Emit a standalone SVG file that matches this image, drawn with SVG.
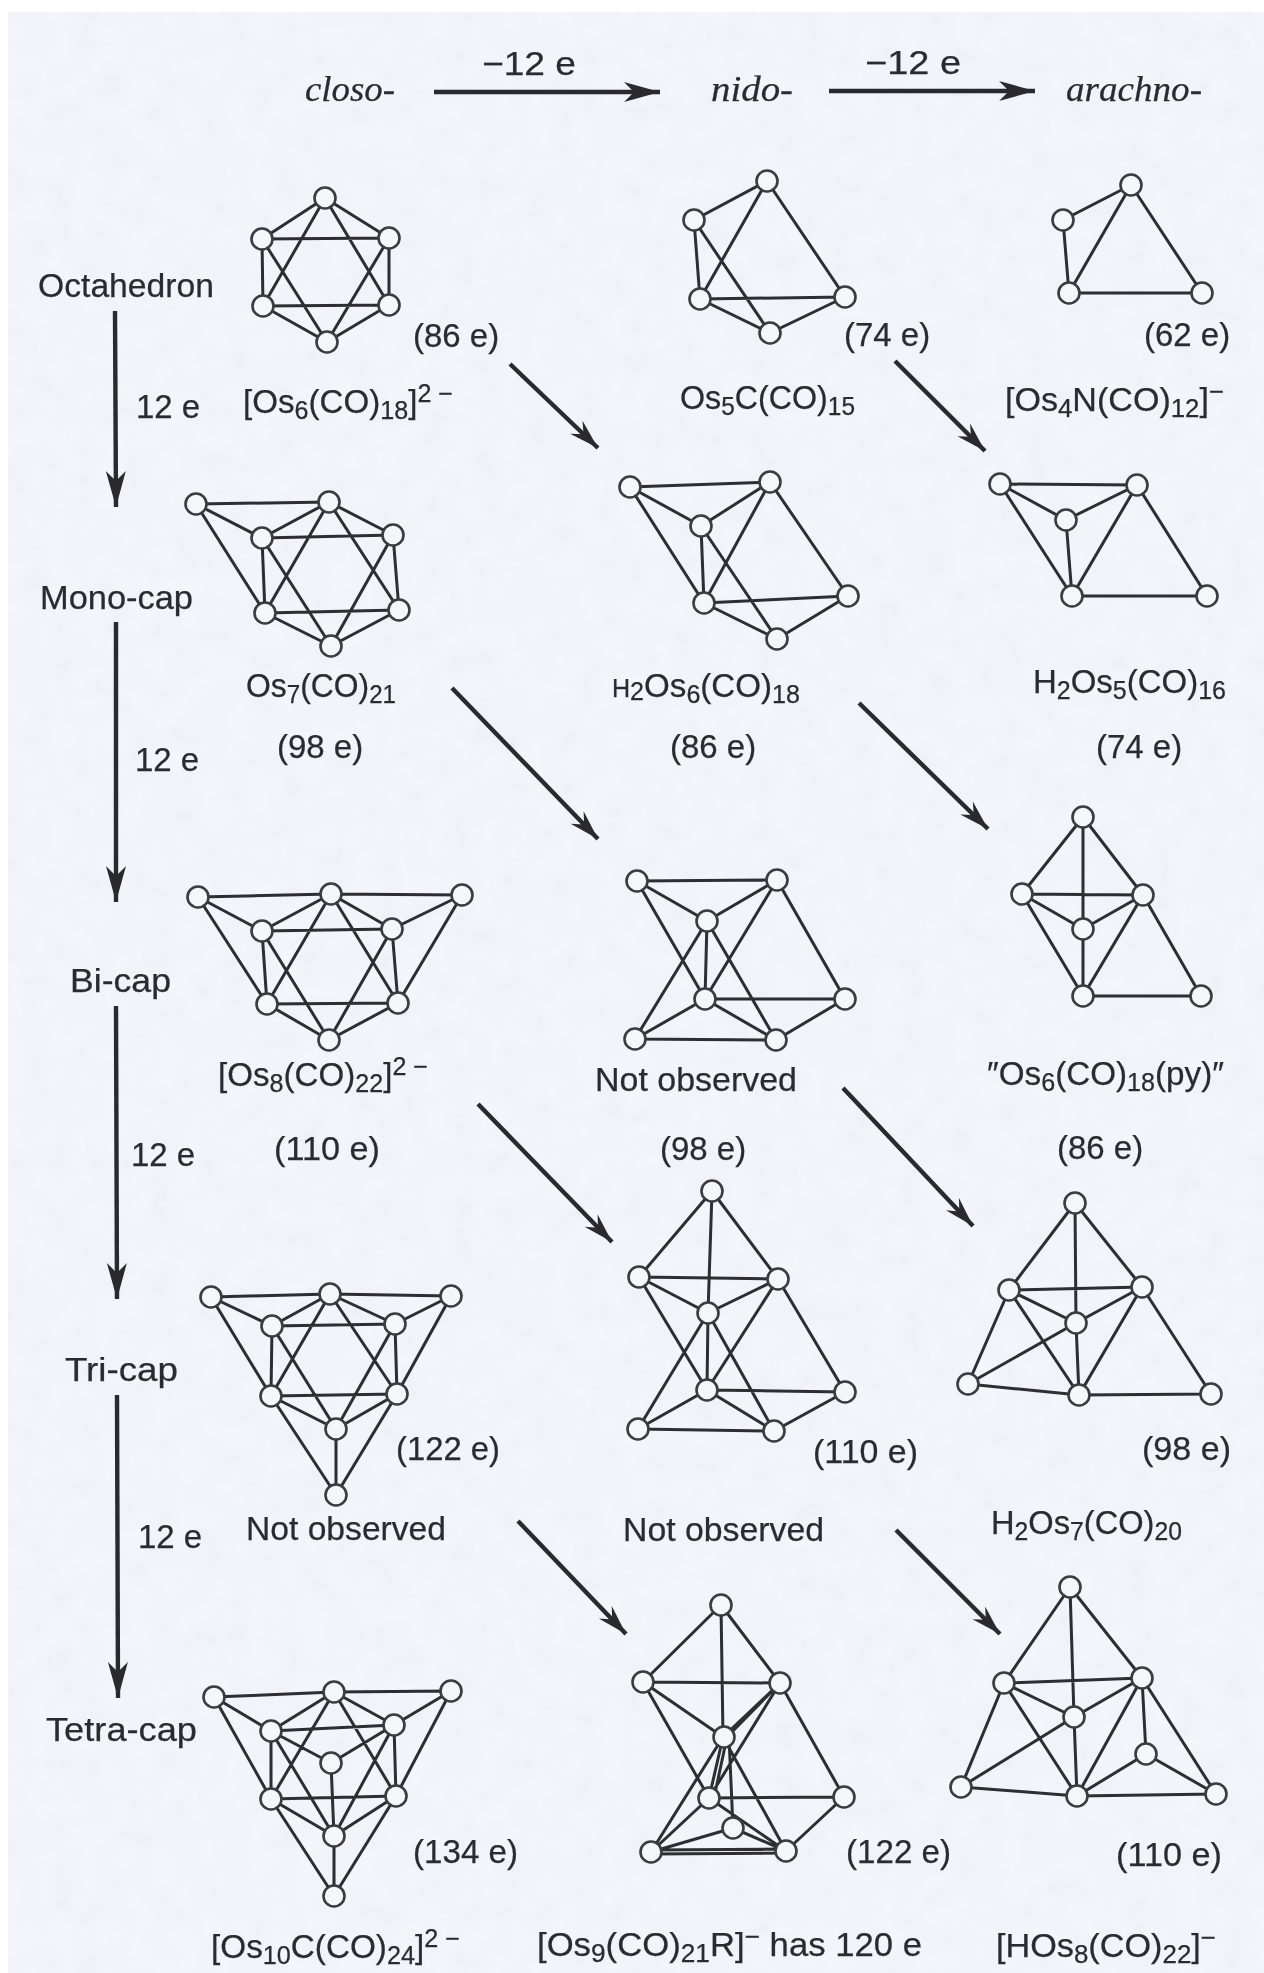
<svg xmlns="http://www.w3.org/2000/svg" width="1264" height="1973" viewBox="0 0 1264 1973">
<style>
.e{fill:none;stroke:#2e2e33;stroke-width:3;stroke-linecap:round}
.a{fill:#f4f6fa;stroke:#3a3a3f;stroke-width:2.6}
.ar{fill:none;stroke:#2a2a2f;stroke-width:4.4}
text{font-family:"Liberation Sans",Arial,sans-serif;font-size:33px;fill:#2c2c30;stroke:#2c2c30;stroke-width:.25}
.i{font-family:"Liberation Serif","Times New Roman",serif;font-style:italic;font-size:36px}
.s{font-size:25px}
</style>
<defs>
<marker id="hv" markerUnits="userSpaceOnUse" viewBox="-40 -12 42 24" refX="0" refY="0" markerWidth="42" markerHeight="24" orient="auto"><path d="M0 0L-36 -10L-26 0L-36 10Z" fill="#2a2a2f"/></marker>
<marker id="hd" markerUnits="userSpaceOnUse" viewBox="-40 -12 42 24" refX="0" refY="0" markerWidth="42" markerHeight="24" orient="auto"><path d="M0 0L-30 -9L-20 0L-30 9Z" fill="#2a2a2f"/></marker>
<filter id="mottle" x="0" y="0" width="100%" height="100%"><feTurbulence type="fractalNoise" baseFrequency="0.04" numOctaves="3" seed="4"/><feColorMatrix values="0 0 0 0 0.7  0 0 0 0 0.72  0 0 0 0 0.78  0.32 0 0 0 -0.11"/></filter>
<filter id="soft" x="0" y="0" width="100%" height="100%"><feGaussianBlur stdDeviation="0.5"/></filter>
</defs>
<rect width="1264" height="1973" fill="#ffffff"/>
<g id="page"><rect x="8" y="12" width="1256" height="1961" fill="#f3f5fa"/><rect x="8" y="12" width="1256" height="1961" filter="url(#mottle)"/></g>
<g filter="url(#soft)">
<g id="connectors">
<g id="arrows">
<path class="ar" marker-end="url(#hv)" d="M115 311L116 507"/>
<path class="ar" marker-end="url(#hv)" d="M116 622L116 902"/>
<path class="ar" marker-end="url(#hv)" d="M116 1006L117 1299"/>
<path class="ar" marker-end="url(#hv)" d="M117 1395L118 1698"/>
<path class="ar" marker-end="url(#hv)" d="M434 92L660 92"/>
<path class="ar" marker-end="url(#hv)" d="M829 91L1035 91"/>
<path class="ar" marker-end="url(#hd)" d="M510 364L598 448"/>
<path class="ar" marker-end="url(#hd)" d="M895 361L985 451"/>
<path class="ar" marker-end="url(#hd)" d="M452 688L598 839"/>
<path class="ar" marker-end="url(#hd)" d="M859 703L988 829"/>
<path class="ar" marker-end="url(#hd)" d="M478 1104L612 1242"/>
<path class="ar" marker-end="url(#hd)" d="M843 1088L973 1226"/>
<path class="ar" marker-end="url(#hd)" d="M518 1521L626 1634"/>
<path class="ar" marker-end="url(#hd)" d="M896 1530L1000 1634"/>
</g>
<g id="bonds">
<path class="e" d="M325 198L262 239M325 198L389 238M262 239L389 238M262 239L263 306M389 238L389 305M263 306L389 305M263 306L327 342M389 305L327 342M325 198L263 306M325 198L389 305M327 342L262 239M327 342L389 238"/>
<path class="e" d="M329 502L262 538M329 502L393 535M262 538L393 535M262 538L265 613M393 535L399 610M265 613L399 610M265 613L331 646M399 610L331 646M329 502L265 613M329 502L399 610M331 646L262 538M331 646L393 535M196 504L329 502M196 504L262 538M196 504L265 613"/>
<path class="e" d="M331 894L262 931M331 894L392 929M262 931L392 929M262 931L267 1004M392 929L398 1003M267 1004L398 1003M267 1004L329 1040M398 1003L329 1040M331 894L267 1004M331 894L398 1003M329 1040L262 931M329 1040L392 929M198 897L331 894M331 894L462 895M198 897L262 931M198 897L267 1004M462 895L392 929M462 895L398 1003"/>
<path class="e" d="M330 1294L272 1326M330 1294L395 1324M272 1326L395 1324M272 1326L271 1396M395 1324L397 1394M271 1396L397 1394M271 1396L336 1429M397 1394L336 1429M330 1294L271 1396M330 1294L397 1394M336 1429L272 1326M336 1429L395 1324M211 1297L330 1294M330 1294L451 1296M211 1297L272 1326M211 1297L271 1396M451 1296L395 1324M451 1296L397 1394M336 1495L271 1396M336 1495L397 1394M336 1495L336 1429"/>
<path class="e" d="M334 1692L271 1731M334 1692L394 1725M271 1731L394 1725M271 1731L271 1799M394 1725L396 1796M271 1799L396 1796M271 1799L334 1836M396 1796L334 1836M334 1692L271 1799M334 1692L396 1796M334 1836L271 1731M334 1836L394 1725M214 1697L334 1692M334 1692L451 1691M214 1697L271 1731M214 1697L271 1799M451 1691L394 1725M451 1691L396 1796M334 1896L271 1799M334 1896L396 1796M334 1896L334 1836M331 1763L271 1731M331 1763L394 1725M331 1763L334 1836"/>
<path class="e" d="M767 181L694 220M767 181L700 299M767 181L845 297M694 220L700 299M694 220L770 333M700 299L845 297M700 299L770 333M845 297L770 333"/>
<path class="e" d="M630 487L770 482M630 487L701 526M630 487L704 603M770 482L701 526M770 482L704 603M770 482L848 596M701 526L704 603M701 526L777 639M704 603L848 596M704 603L777 639M848 596L777 639"/>
<path class="e" d="M637 881L777 880M637 881L707 921M637 881L705 999M777 880L707 921M777 880L705 999M777 880L845 999M707 921L705 999M707 921L776 1040M707 921L635 1039M635 1039L705 999M635 1039L776 1040M705 999L845 999M705 999L776 1040M845 999L776 1040"/>
<path class="e" d="M712 1191L639 1277M712 1191L778 1279M712 1191L708 1313M639 1277L778 1279M639 1277L708 1313M778 1279L708 1313M639 1277L707 1390M778 1279L707 1390M778 1279L845 1392M708 1313L707 1390M708 1313L774 1431M708 1313L638 1429M638 1429L707 1390M638 1429L774 1431M707 1390L845 1392M707 1390L774 1431M845 1392L774 1431"/>
<path class="e" d="M721 1605L643 1682M721 1605L780 1683M721 1605L723 1737M643 1682L780 1683M643 1682L723 1737M780 1683L723 1737M780 1683L727 1737M643 1682L709 1798M780 1683L709 1798M780 1683L844 1797M723 1737L709 1798M727 1737L714 1798M729 1737L733 1828M723 1737L786 1851M723 1737L651 1852M709 1798L844 1797M709 1798L651 1852M709 1798L786 1851M733 1828L651 1852M733 1828L786 1851M651 1850L786 1849M651 1854L786 1853M844 1797L786 1851"/>
<path class="e" d="M1131 185L1063 220M1131 185L1069 293M1131 185L1202 293M1063 220L1069 293M1069 293L1202 293"/>
<path class="e" d="M1000 484L1137 485M1000 484L1066 520M1000 484L1072 596M1137 485L1066 520M1137 485L1072 596M1137 485L1207 596M1066 520L1072 596M1072 596L1207 596"/>
<path class="e" d="M1083 817L1022 894M1083 817L1143 895M1083 817L1083 996M1022 894L1143 895M1022 894L1083 929M1143 895L1083 929M1022 894L1083 996M1143 895L1083 996M1143 895L1201 996M1083 996L1201 996"/>
<path class="e" d="M1075 1203L1009 1290M1075 1203L1142 1287M1075 1203L1076 1323M1009 1290L1142 1287M1009 1290L1076 1323M1142 1287L1076 1323M1009 1290L1079 1395M1142 1287L1079 1395M1142 1287L1211 1394M1076 1323L1079 1395M1079 1395L1211 1394M968 1384L1079 1395M968 1384L1009 1290M968 1384L1076 1323"/>
<path class="e" d="M1070 1587L1004 1683M1070 1587L1142 1678M1070 1587L1074 1717M1004 1683L1142 1678M1004 1683L1074 1717M1142 1678L1074 1717M1004 1683L1077 1796M1142 1678L1077 1796M1074 1717L1077 1796M961 1787L1004 1683M961 1787L1074 1717M961 1787L1077 1796M1142 1678L1216 1794M1142 1678L1146 1754M1146 1754L1077 1796M1146 1754L1216 1794M1077 1796L1216 1794"/>
</g>
</g>
<g id="closo-octahedron"><circle class="a" cx="325" cy="198" r="10.5"/><circle class="a" cx="262" cy="239" r="10.5"/><circle class="a" cx="389" cy="238" r="10.5"/><circle class="a" cx="263" cy="306" r="10.5"/><circle class="a" cx="389" cy="305" r="10.5"/><circle class="a" cx="327" cy="342" r="10.5"/></g>
<g id="closo-monocap"><circle class="a" cx="196" cy="504" r="10.5"/><circle class="a" cx="329" cy="502" r="10.5"/><circle class="a" cx="262" cy="538" r="10.5"/><circle class="a" cx="393" cy="535" r="10.5"/><circle class="a" cx="265" cy="613" r="10.5"/><circle class="a" cx="399" cy="610" r="10.5"/><circle class="a" cx="331" cy="646" r="10.5"/></g>
<g id="closo-bicap"><circle class="a" cx="198" cy="897" r="10.5"/><circle class="a" cx="331" cy="894" r="10.5"/><circle class="a" cx="462" cy="895" r="10.5"/><circle class="a" cx="262" cy="931" r="10.5"/><circle class="a" cx="392" cy="929" r="10.5"/><circle class="a" cx="267" cy="1004" r="10.5"/><circle class="a" cx="398" cy="1003" r="10.5"/><circle class="a" cx="329" cy="1040" r="10.5"/></g>
<g id="closo-tricap"><circle class="a" cx="211" cy="1297" r="10.5"/><circle class="a" cx="330" cy="1294" r="10.5"/><circle class="a" cx="451" cy="1296" r="10.5"/><circle class="a" cx="272" cy="1326" r="10.5"/><circle class="a" cx="395" cy="1324" r="10.5"/><circle class="a" cx="271" cy="1396" r="10.5"/><circle class="a" cx="397" cy="1394" r="10.5"/><circle class="a" cx="336" cy="1429" r="10.5"/><circle class="a" cx="336" cy="1495" r="10.5"/></g>
<g id="closo-tetracap"><circle class="a" cx="214" cy="1697" r="10.5"/><circle class="a" cx="334" cy="1692" r="10.5"/><circle class="a" cx="451" cy="1691" r="10.5"/><circle class="a" cx="271" cy="1731" r="10.5"/><circle class="a" cx="394" cy="1725" r="10.5"/><circle class="a" cx="331" cy="1763" r="10.5"/><circle class="a" cx="271" cy="1799" r="10.5"/><circle class="a" cx="396" cy="1796" r="10.5"/><circle class="a" cx="334" cy="1836" r="10.5"/><circle class="a" cx="334" cy="1896" r="10.5"/></g>
<g id="nido-octahedron"><circle class="a" cx="767" cy="181" r="10.5"/><circle class="a" cx="694" cy="220" r="10.5"/><circle class="a" cx="700" cy="299" r="10.5"/><circle class="a" cx="845" cy="297" r="10.5"/><circle class="a" cx="770" cy="333" r="10.5"/></g>
<g id="nido-monocap"><circle class="a" cx="630" cy="487" r="10.5"/><circle class="a" cx="770" cy="482" r="10.5"/><circle class="a" cx="701" cy="526" r="10.5"/><circle class="a" cx="704" cy="603" r="10.5"/><circle class="a" cx="848" cy="596" r="10.5"/><circle class="a" cx="777" cy="639" r="10.5"/></g>
<g id="nido-bicap"><circle class="a" cx="637" cy="881" r="10.5"/><circle class="a" cx="777" cy="880" r="10.5"/><circle class="a" cx="707" cy="921" r="10.5"/><circle class="a" cx="705" cy="999" r="10.5"/><circle class="a" cx="845" cy="999" r="10.5"/><circle class="a" cx="635" cy="1039" r="10.5"/><circle class="a" cx="776" cy="1040" r="10.5"/></g>
<g id="nido-tricap"><circle class="a" cx="712" cy="1191" r="10.5"/><circle class="a" cx="639" cy="1277" r="10.5"/><circle class="a" cx="778" cy="1279" r="10.5"/><circle class="a" cx="708" cy="1313" r="10.5"/><circle class="a" cx="707" cy="1390" r="10.5"/><circle class="a" cx="845" cy="1392" r="10.5"/><circle class="a" cx="638" cy="1429" r="10.5"/><circle class="a" cx="774" cy="1431" r="10.5"/></g>
<g id="nido-tetracap"><circle class="a" cx="721" cy="1605" r="10.5"/><circle class="a" cx="643" cy="1682" r="10.5"/><circle class="a" cx="780" cy="1683" r="10.5"/><circle class="a" cx="724" cy="1737" r="10.5"/><circle class="a" cx="709" cy="1798" r="10.5"/><circle class="a" cx="844" cy="1797" r="10.5"/><circle class="a" cx="733" cy="1828" r="10.5"/><circle class="a" cx="651" cy="1852" r="10.5"/><circle class="a" cx="786" cy="1851" r="10.5"/></g>
<g id="arachno-octahedron"><circle class="a" cx="1131" cy="185" r="10.5"/><circle class="a" cx="1063" cy="220" r="10.5"/><circle class="a" cx="1069" cy="293" r="10.5"/><circle class="a" cx="1202" cy="293" r="10.5"/></g>
<g id="arachno-monocap"><circle class="a" cx="1000" cy="484" r="10.5"/><circle class="a" cx="1137" cy="485" r="10.5"/><circle class="a" cx="1066" cy="520" r="10.5"/><circle class="a" cx="1072" cy="596" r="10.5"/><circle class="a" cx="1207" cy="596" r="10.5"/></g>
<g id="arachno-bicap"><circle class="a" cx="1083" cy="817" r="10.5"/><circle class="a" cx="1022" cy="894" r="10.5"/><circle class="a" cx="1143" cy="895" r="10.5"/><circle class="a" cx="1083" cy="929" r="10.5"/><circle class="a" cx="1083" cy="996" r="10.5"/><circle class="a" cx="1201" cy="996" r="10.5"/></g>
<g id="arachno-tricap"><circle class="a" cx="1075" cy="1203" r="10.5"/><circle class="a" cx="1009" cy="1290" r="10.5"/><circle class="a" cx="1142" cy="1287" r="10.5"/><circle class="a" cx="1076" cy="1323" r="10.5"/><circle class="a" cx="1079" cy="1395" r="10.5"/><circle class="a" cx="1211" cy="1394" r="10.5"/><circle class="a" cx="968" cy="1384" r="10.5"/></g>
<g id="arachno-tetracap"><circle class="a" cx="1070" cy="1587" r="10.5"/><circle class="a" cx="1004" cy="1683" r="10.5"/><circle class="a" cx="1142" cy="1678" r="10.5"/><circle class="a" cx="1074" cy="1717" r="10.5"/><circle class="a" cx="1077" cy="1796" r="10.5"/><circle class="a" cx="961" cy="1787" r="10.5"/><circle class="a" cx="1216" cy="1794" r="10.5"/><circle class="a" cx="1146" cy="1754" r="10.5"/></g>
<g id="labels">
<text class="i" x="305" y="101" textLength="90" lengthAdjust="spacingAndGlyphs">closo-</text>
<text class="i" x="711" y="101" textLength="82" lengthAdjust="spacingAndGlyphs">nido-</text>
<text class="i" x="1066" y="101" textLength="136" lengthAdjust="spacingAndGlyphs">arachno-</text>
<text x="482" y="75" textLength="94" lengthAdjust="spacingAndGlyphs">−12 e</text>
<text x="865" y="74" textLength="96" lengthAdjust="spacingAndGlyphs">−12 e</text>
<text x="38" y="297" textLength="176" lengthAdjust="spacingAndGlyphs">Octahedron</text>
<text x="40" y="609" textLength="153" lengthAdjust="spacingAndGlyphs">Mono-cap</text>
<text x="70" y="992" textLength="101" lengthAdjust="spacingAndGlyphs">Bi-cap</text>
<text x="65" y="1381" textLength="113" lengthAdjust="spacingAndGlyphs">Tri-cap</text>
<text x="46" y="1741" textLength="151" lengthAdjust="spacingAndGlyphs">Tetra-cap</text>
<text x="136" y="418">12 e</text>
<text x="135" y="771">12 e</text>
<text x="131" y="1166">12 e</text>
<text x="138" y="1548">12 e</text>
<text x="243" y="413" textLength="210" lengthAdjust="spacingAndGlyphs">[Os<tspan class="s" dy="6">6</tspan><tspan dy="-6">(CO)</tspan><tspan class="s" dy="6">18</tspan><tspan dy="-6">]</tspan><tspan class="s" dy="-11">2 −</tspan></text>
<text x="413" y="347">(86 e)</text>
<text x="680" y="409" textLength="175" lengthAdjust="spacingAndGlyphs">Os<tspan class="s" dy="6">5</tspan><tspan dy="-6">C(CO)</tspan><tspan class="s" dy="6">15</tspan></text>
<text x="844" y="346">(74 e)</text>
<text x="1144" y="346">(62 e)</text>
<text x="1005" y="411" textLength="219" lengthAdjust="spacingAndGlyphs">[Os<tspan class="s" dy="6">4</tspan><tspan dy="-6">N(CO)</tspan><tspan class="s" dy="6">12</tspan><tspan dy="-6">]</tspan><tspan class="s" dy="-11">−</tspan></text>
<text x="246" y="697" textLength="150" lengthAdjust="spacingAndGlyphs">Os<tspan class="s" dy="6">7</tspan><tspan dy="-6">(CO)</tspan><tspan class="s" dy="6">21</tspan></text>
<text x="277" y="758">(98 e)</text>
<text x="612" y="697" textLength="188" lengthAdjust="spacingAndGlyphs"><tspan class="s">H</tspan><tspan class="s" dy="3">2</tspan><tspan dy="-3">Os</tspan><tspan class="s" dy="6">6</tspan><tspan dy="-6">(CO)</tspan><tspan class="s" dy="6">18</tspan></text>
<text x="670" y="758">(86 e)</text>
<text x="1033" y="693" textLength="193" lengthAdjust="spacingAndGlyphs">H<tspan class="s" dy="6">2</tspan><tspan dy="-6">Os</tspan><tspan class="s" dy="6">5</tspan><tspan dy="-6">(CO)</tspan><tspan class="s" dy="6">16</tspan></text>
<text x="1096" y="758">(74 e)</text>
<text x="218" y="1086" textLength="210" lengthAdjust="spacingAndGlyphs">[Os<tspan class="s" dy="6">8</tspan><tspan dy="-6">(CO)</tspan><tspan class="s" dy="6">22</tspan><tspan dy="-6">]</tspan><tspan class="s" dy="-11">2 −</tspan></text>
<text x="595" y="1091" textLength="202" lengthAdjust="spacingAndGlyphs">Not observed</text>
<text x="987" y="1085" textLength="237" lengthAdjust="spacingAndGlyphs">″Os<tspan class="s" dy="6">6</tspan><tspan dy="-6">(CO)</tspan><tspan class="s" dy="6">18</tspan><tspan dy="-6">(py)″</tspan></text>
<text x="274" y="1160" textLength="106" lengthAdjust="spacingAndGlyphs">(110 e)</text>
<text x="660" y="1160">(98 e)</text>
<text x="1057" y="1159">(86 e)</text>
<text x="396" y="1460" textLength="104" lengthAdjust="spacingAndGlyphs">(122 e)</text>
<text x="813" y="1463" textLength="105" lengthAdjust="spacingAndGlyphs">(110 e)</text>
<text x="1142" y="1460" textLength="89" lengthAdjust="spacingAndGlyphs">(98 e)</text>
<text x="246" y="1540" textLength="200" lengthAdjust="spacingAndGlyphs">Not observed</text>
<text x="623" y="1541" textLength="201" lengthAdjust="spacingAndGlyphs">Not observed</text>
<text x="991" y="1534" textLength="191" lengthAdjust="spacingAndGlyphs">H<tspan class="s" dy="6">2</tspan><tspan dy="-6">Os</tspan><tspan class="s" dy="6">7</tspan><tspan dy="-6">(CO)</tspan><tspan class="s" dy="6">20</tspan></text>
<text x="413" y="1863" textLength="105" lengthAdjust="spacingAndGlyphs">(134 e)</text>
<text x="846" y="1863" textLength="105" lengthAdjust="spacingAndGlyphs">(122 e)</text>
<text x="1116" y="1866" textLength="106" lengthAdjust="spacingAndGlyphs">(110 e)</text>
<text x="211" y="1958" textLength="249" lengthAdjust="spacingAndGlyphs">[Os<tspan class="s" dy="6">10</tspan><tspan dy="-6">C(CO)</tspan><tspan class="s" dy="6">24</tspan><tspan dy="-6">]</tspan><tspan class="s" dy="-11">2 −</tspan></text>
<text x="537" y="1956" textLength="385" lengthAdjust="spacingAndGlyphs">[Os<tspan class="s" dy="6">9</tspan><tspan dy="-6">(CO)</tspan><tspan class="s" dy="6">21</tspan><tspan dy="-6">R]</tspan><tspan class="s" dy="-11">−</tspan><tspan dy="11"> has 120 e</tspan></text>
<text x="996" y="1957" textLength="220" lengthAdjust="spacingAndGlyphs">[HOs<tspan class="s" dy="6">8</tspan><tspan dy="-6">(CO)</tspan><tspan class="s" dy="6">22</tspan><tspan dy="-6">]</tspan><tspan class="s" dy="-11">−</tspan></text>
</g>
</g>
</svg>
